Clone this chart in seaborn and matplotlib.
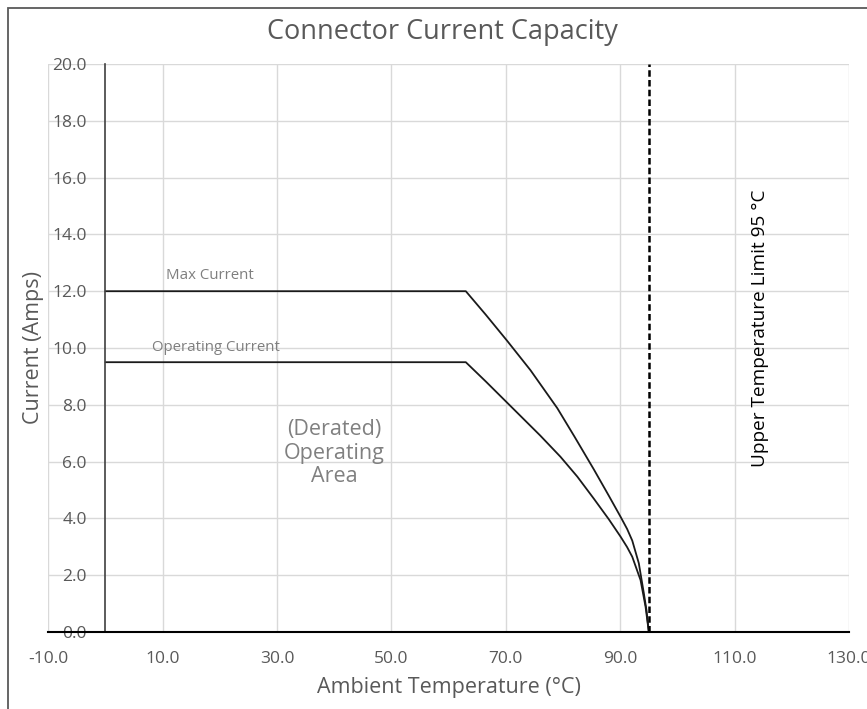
import matplotlib
matplotlib.use("Agg")
import matplotlib.pyplot as plt
import seaborn as sns
import pandas as pd
from matplotlib.patches import Rectangle

# ---- data ----
temp_max = [0, 63, 66.5, 70.2, 74.3, 79.0, 82.0, 85.4, 88.0, 90.05, 91.2, 92.1, 93.25, 94.13, 94.6, 95]
amps_max = [12, 12, 11.17, 10.26, 9.22, 7.88, 6.88, 5.72, 4.80, 4.06, 3.63, 3.22, 2.42, 1.36, 0.75, 0]
temp_op = [0, 63, 66.5, 70.2, 73.0, 76.0, 79.55, 82.5, 85.4, 88.0, 90.05, 91.2, 92.1, 93.55, 94.43, 95]
amps_op = [9.5, 9.5, 8.82, 8.08, 7.52, 6.92, 6.17, 5.47, 4.69, 3.97, 3.36, 2.99, 2.65, 1.83, 0.89, 0]
limit_temp = [95, 95]
limit_amps = [0, 20]
x_ticks = [-10, 10, 30, 50, 70, 90, 110, 130]
y_ticks = [0, 2, 4, 6, 8, 10, 12, 14, 16, 18, 20]

sns.set_theme(style="whitegrid")
plt.rcParams['font.family'] = ['Open Sans', 'DejaVu Sans']

fig = plt.figure(figsize=(8.67, 7.09), dpi=100)
W, H = 867, 709
ax = fig.add_axes([48.3 / W, 1 - 632 / H, (849 - 48.3) / W, (632 - 64) / H])

df = pd.DataFrame({
    "temp": temp_max + temp_op,
    "amps": amps_max + amps_op,
    "series": ["Max Current"] * len(temp_max) + ["Operating Current"] * len(temp_op),
})
sns.lineplot(data=df, x="temp", y="amps", units="series", estimator=None,
             sort=False, color="#1a1a1a", linewidth=1.3, ax=ax, legend=False)
sns.lineplot(x=limit_temp, y=limit_amps, estimator=None, sort=False,
             color="black", linewidth=1.8, linestyle=(0, (2.6, 1.3)), ax=ax,
             legend=False)

ax.set_xlim(-10, 130)
ax.set_ylim(0, 20)
ax.set_xticks(x_ticks)
ax.set_yticks(y_ticks)
ax.set_xticklabels([f"{v:.1f}" for v in x_ticks])
ax.set_yticklabels([f"{v:.1f}" for v in y_ticks])
ax.grid(True, color="#d9d9d9", linewidth=1.0)
ax.set_facecolor("white")

for s in ["top", "right"]:
    ax.spines[s].set_visible(False)
ax.spines["left"].set_position(("data", 0))
ax.spines["left"].set_color("#404040")
ax.spines["left"].set_linewidth(1.2)
ax.spines["bottom"].set_color("black")
ax.spines["bottom"].set_linewidth(1.5)
ax.spines["bottom"].set_zorder(5)

ax.tick_params(axis="y", length=0, pad=13.5, labelsize=12.5, labelcolor="#595959")
ax.tick_params(axis="x", length=0, pad=13.5, labelsize=12.5, labelcolor="#595959")
ax.set_xlabel("")
ax.set_ylabel("")

ax.text(18.2, 12.57, "Max Current", ha="center", va="center", fontsize=10.8,
        color="#7f7f7f")
ax.text(19.35, 10.01, "Operating Current", ha="center", va="center",
        fontsize=10.8, color="#7f7f7f")
ax.text(40.0, 6.3, "(Derated)\nOperating\nArea", ha="center", va="center",
        fontsize=15.5, color="#808080", linespacing=1.15)
ax.text(114.5, 10.7, "Upper Temperature Limit 95 °C", ha="center", va="center",
        rotation=90, fontsize=13.7, color="black")

fig.text(442 / W, 1 - 32 / H, "Connector Current Capacity", ha="center",
         va="center", fontsize=19.5, color="#595959")
fig.text(34 / W, 1 - 348 / H, "Current (Amps)", ha="center", va="center",
         rotation=90, fontsize=15.5, color="#595959")
fig.text(449 / W, 1 - 688 / H, "Ambient Temperature (°C)", ha="center",
         va="center", fontsize=15.5, color="#595959")

fig.patches.append(Rectangle((8 / W, -0.1), 1.2, 1 - 8 / H + 0.1,
                             transform=fig.transFigure, fill=False,
                             edgecolor="#595959", linewidth=1.3))

fig.savefig("out.png", dpi=100, facecolor="white")
